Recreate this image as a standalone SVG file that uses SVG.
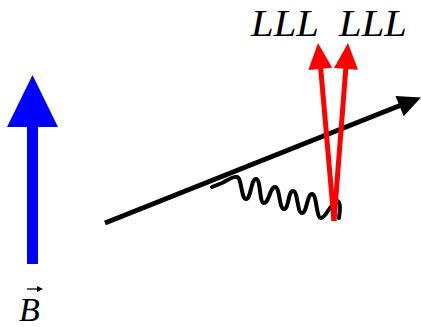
<svg xmlns="http://www.w3.org/2000/svg" width="421" height="327" viewBox="0 0 421 327">
<style>
.lbl{font-family:"Liberation Serif","Times New Roman",serif;font-style:italic;fill:#000}
.red{stroke:#ff0000;stroke-width:5;fill:none}
</style>
<rect width="421" height="327" fill="#ffffff"/>
<g id="field-B">
  <rect x="27" y="124" width="11" height="140" fill="#0000ff"/>
  <polygon points="32.5,75 7,127 58,127" fill="#0000ff"/>
  <text class="lbl" x="19" y="321" font-size="34">B</text>
  <line x1="27" y1="289" x2="39" y2="289" stroke="#000" stroke-width="1.3"/>
  <polygon points="43,289 37,286 37,292" fill="#000"/>
</g>
<g id="connectors">
  <g id="track">
    <line x1="105" y1="223" x2="400" y2="105.5" stroke="#000" stroke-width="5"/>
    <polygon points="421,97.5 395.5,95.9 403.7,116.3" fill="#000"/>
  </g>
  <path id="wiggle" d="M212,187 L222,183 C228,180 233,176 237,177 C242,178 241,199 246,199 C251,199 251,179 256,179 C261,179 259,203 264,203 C269,203 270,187 275,187 C280,187 279,209 284,209 C289,209 288,191 293,191 C298,191 297,213 302,213 C307,213 307,194 312,194 C317,194 316,218 321,218 C326,218 332,201 337,201 C341,201 340,212 339,218" fill="none" stroke="#000" stroke-width="4" stroke-linecap="round" stroke-linejoin="round"/>
  <g id="red-left">
    <line class="red" x1="334" y1="221" x2="320.5" y2="66"/>
    <polygon points="318,43 308.3,70 332.2,67.8" fill="#ff0000"/>
  </g>
  <g id="red-right">
    <line class="red" x1="334" y1="221" x2="346" y2="66"/>
    <polygon points="348,43 334,67.9 358,69.8" fill="#ff0000"/>
  </g>
</g>
<g id="labels">
  <text class="lbl" x="251" y="36" font-size="38" textLength="68" lengthAdjust="spacingAndGlyphs">LLL</text>
  <text class="lbl" x="339" y="36" font-size="38" textLength="68" lengthAdjust="spacingAndGlyphs">LLL</text>
</g>
</svg>
